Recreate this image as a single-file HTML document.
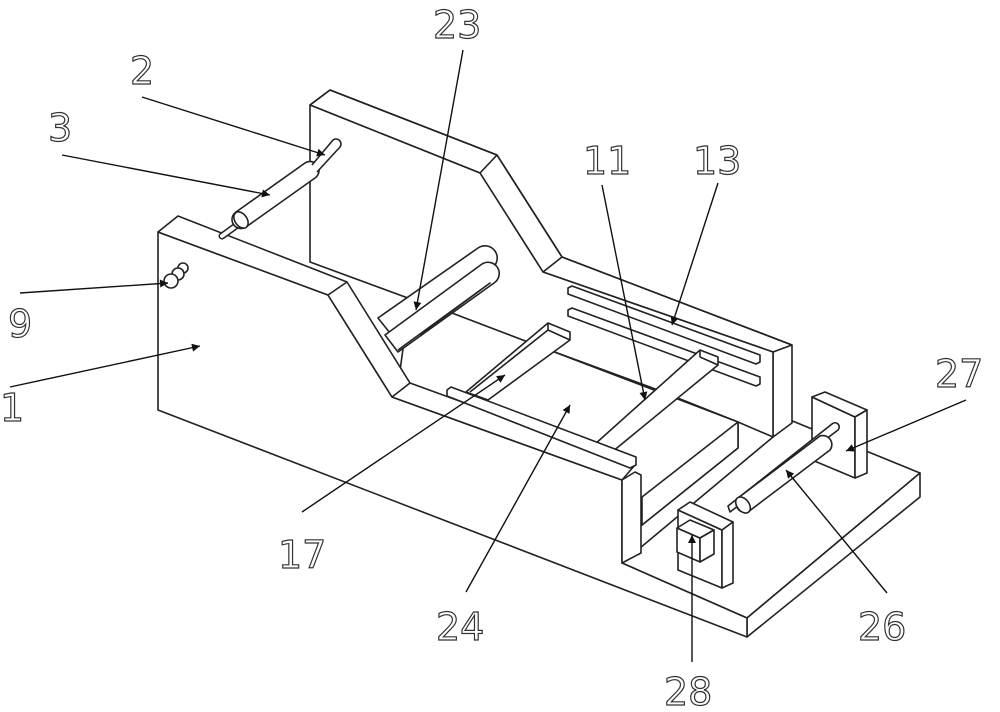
<!DOCTYPE html>
<html><head><style>
html,body{margin:0;padding:0;background:#fff;width:1000px;height:712px;overflow:hidden}
svg text{font-family:"DejaVu Sans","Liberation Sans",sans-serif;font-size:38px;fill:#fff;stroke:#333;stroke-width:1.2;font-weight:normal}
</style></head><body>
<svg width="1000" height="712" viewBox="0 0 1000 712" xmlns="http://www.w3.org/2000/svg">
<defs>
<marker id="a" viewBox="0 0 10 10" refX="10" refY="5" markerWidth="26" markerHeight="8" markerUnits="userSpaceOnUse" orient="auto"><path d="M0,0 L10,5 L0,10 z" fill="#111"/></marker>
</defs>
<g fill="#fff" stroke="#222" stroke-width="1.6" stroke-linejoin="round">
<!-- base plate -->
<polygon points="622,563 747,618 920,473 790,420 773,437"/>
<polygon points="747,618 920,473 920,497 747,637"/>
<!-- back wall -->
<polygon points="310,105 330,90 497,155 562,257 792,345 792,423 773,437 773,352 543,272 480,173"/>
<polygon points="310,105 480,173 543,272 773,352 773,437 738,422 650,387 310,262"/>
<polyline fill="none" points="310,105 330,90 497,155 562,257 792,345"/>
<line x1="480" y1="173" x2="497" y2="155"/>
<line x1="543" y1="272" x2="562" y2="257"/>
<line x1="773" y1="352" x2="792" y2="345"/>
<!-- floor -->
<polygon points="410,297 738,422 738,448 642,525 392,430"/>
<!-- block under 24 -->
<polygon points="642,497 738,422 738,448 642,525"/>
<!-- rails 13 -->
<polygon points="568,288 572,286 760,355 760,362 756,364 568,294"/>
<polygon points="568,310 572,308 760,377 760,384 756,386 568,316"/>
<!-- crossbar 11 -->
<polygon points="700,350 718,357 718,365 612,452 594,445"/>
<line x1="700" y1="350" x2="700" y2="357"/><line x1="700" y1="357" x2="718" y2="365"/>
<!-- crossbar 17 -->
<polygon points="548,323 570,332 570,340 488,400 466,392"/>
<line x1="548" y1="330" x2="570" y2="340"/><line x1="548" y1="323" x2="548" y2="330"/><line x1="548" y1="330" x2="470" y2="392"/>
<!-- rollers 23 -->
<g>
<path d="M378,318 L478,248 A12,12 0 0 1 492,268 L394,338 Z"/>
<path d="M385,335 L482,264 A11,11 0 0 1 494,283 L398,352 Z"/>
<path d="M398,350 L490,283 L420,335"/>
</g>
<!-- front wall + base front face -->
<polygon points="158,232 328,295 392,397 622,480 622,563 747,618 747,637 158,410"/>
<polygon points="158,232 178,216 347,282 410,383 635,465 622,480 392,397 328,295"/>
<line x1="328" y1="295" x2="347" y2="282"/>
<line x1="392" y1="397" x2="410" y2="383"/>
<polygon points="622,480 635,472 641,475 641,553 622,563"/>
<!-- ledge on front wall -->
<polygon points="447,390 451,387 636,457 636,465 630,468 447,396"/>
<!-- roller 3 and shaft 2 -->
<line x1="222" y1="236" x2="240" y2="223" stroke-width="7" stroke-linecap="round"/>
<line x1="222" y1="236" x2="240" y2="223" stroke="#fff" stroke-width="4" stroke-linecap="round"/>
<path d="M236,212 L305,163 A9,9 0 0 1 315,178 L246,227 A9,9 0 0 1 236,212 Z"/>
<ellipse cx="241" cy="220" rx="6" ry="9" transform="rotate(-35 241 220)"/>
<path d="M312,165 L333,140 A5,5 0 0 1 340,147 L317,172"/>
<!-- pin 9 -->
<circle cx="183" cy="268" r="5"/><circle cx="178" cy="274" r="6"/><circle cx="171" cy="281" r="7"/>
<!-- bracket 27 -->
<polygon points="812,397 855,417 855,478 812,460"/>
<polygon points="812,397 825,392 867,410 855,417"/>
<polygon points="855,417 867,410 867,473 855,478"/>
<!-- roller 26 -->
<path d="M730,512 L838,430 A4,4 0 0 0 832,424 L728,506 Z"/>
<path d="M738,498 L820,436 A9,9 0 0 1 830,450 L748,512 A9,9 0 0 1 738,498 Z"/>
<ellipse cx="743" cy="505" rx="6" ry="9" transform="rotate(-38 743 505)"/>
<!-- bracket 28 -->
<polygon points="678,510 722,530 722,588 678,570"/>
<polygon points="678,510 690,502 733,522 722,530"/>
<polygon points="722,530 733,522 733,583 722,588"/>
<polygon points="677,528 700,538 700,562 677,552"/>
<polygon points="677,528 690,520 714,530 700,538"/>
<polygon points="700,538 714,530 714,554 700,562"/>
</g>
<!-- leaders -->
<g stroke="#111" stroke-width="1.4" fill="none" marker-end="url(#a)">
<line x1="142" y1="97" x2="325" y2="155"/>
<line x1="62" y1="155" x2="270" y2="195"/>
<line x1="20" y1="293" x2="168" y2="283"/>
<line x1="10" y1="387" x2="200" y2="346"/>
<line x1="463" y1="50" x2="416" y2="310"/>
<line x1="602" y1="185" x2="645" y2="400"/>
<line x1="718" y1="183" x2="672" y2="325"/>
<line x1="966" y1="400" x2="846" y2="451"/>
<line x1="302" y1="512" x2="505" y2="375"/>
<line x1="466" y1="592" x2="570" y2="405"/>
<line x1="887" y1="593" x2="786" y2="470"/>
<line x1="692" y1="662" x2="692" y2="535"/>
</g>
<text x="130" y="84">2</text>
<text x="48" y="141">3</text>
<text x="433" y="38">23</text>
<text x="8" y="337">9</text>
<text x="0" y="421">1</text>
<text x="583" y="174">11</text>
<text x="693" y="174">13</text>
<text x="935" y="387">27</text>
<text x="278" y="568">17</text>
<text x="436" y="640">24</text>
<text x="858" y="640">26</text>
<text x="664" y="705">28</text>
</svg>
</body></html>
